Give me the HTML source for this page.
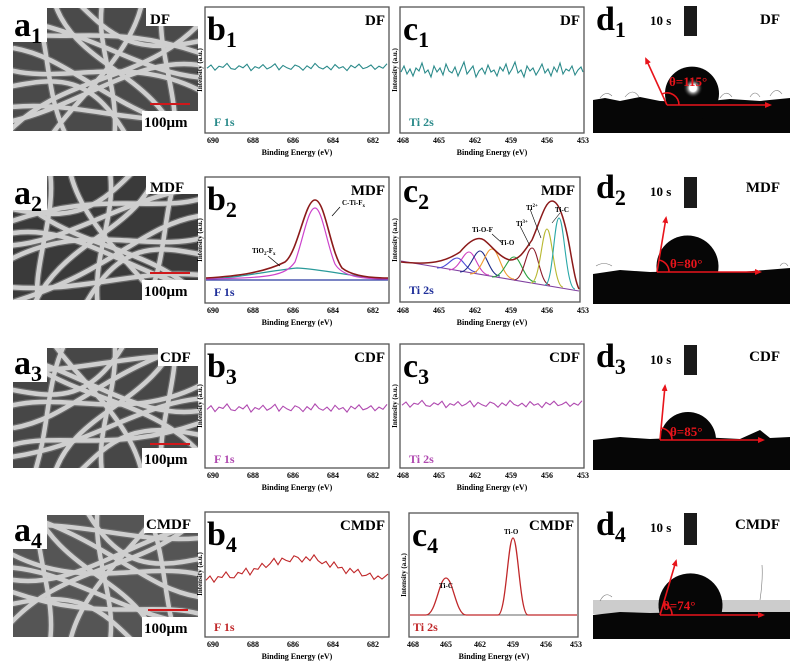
<!DOCTYPE html>
<html><head><meta charset="utf-8"><style>
html,body{margin:0;padding:0;background:#fff;width:802px;height:670px;overflow:hidden}
svg{display:block}
text{font-family:"Liberation Serif",serif;font-weight:bold}
</style></head><body>
<svg width="802" height="670" viewBox="0 0 802 670" xmlns="http://www.w3.org/2000/svg">
<defs>
<radialGradient id="hl"><stop offset="0" stop-color="#fff"/><stop offset="0.35" stop-color="#fff"/><stop offset="1" stop-color="#000" stop-opacity="0"/></radialGradient>
<marker id="ar" markerWidth="8" markerHeight="8" refX="5" refY="3" orient="auto" markerUnits="userSpaceOnUse"><path d="M0,0 L7,3 L0,6 z" fill="#e8141b"/></marker>
<g id="fib" fill="none">
<g stroke="#6a6a6a" stroke-width="7">
<path d="M-10,20 C40,40 100,10 200,50"/><path d="M-10,60 C50,80 120,40 200,90"/><path d="M-10,100 C60,90 120,120 200,110"/><path d="M20,-10 C40,50 30,90 60,140"/><path d="M90,-10 C80,40 110,80 100,140"/><path d="M150,-10 C140,40 170,90 160,140"/><path d="M-10,130 C50,60 140,80 200,0"/><path d="M0,40 C60,50 90,100 200,130"/><path d="M60,-10 C100,30 120,50 200,30"/><path d="M-10,80 C40,70 80,60 120,140"/><path d="M130,-10 C120,50 60,90 30,140"/><path d="M-10,10 C80,20 130,70 200,70"/><path d="M40,-10 C60,60 140,60 170,140"/><path d="M-10,115 C70,100 130,40 200,60"/>
</g>
<g stroke="#cfcfcf" stroke-width="4.5">
<path d="M-10,20 C40,40 100,10 200,50"/><path d="M-10,60 C50,80 120,40 200,90"/><path d="M-10,100 C60,90 120,120 200,110"/><path d="M20,-10 C40,50 30,90 60,140"/><path d="M90,-10 C80,40 110,80 100,140"/><path d="M150,-10 C140,40 170,90 160,140"/><path d="M-10,130 C50,60 140,80 200,0"/><path d="M0,40 C60,50 90,100 200,130"/><path d="M60,-10 C100,30 120,50 200,30"/><path d="M-10,80 C40,70 80,60 120,140"/><path d="M130,-10 C120,50 60,90 30,140"/><path d="M-10,10 C80,20 130,70 200,70"/><path d="M40,-10 C60,60 140,60 170,140"/><path d="M-10,115 C70,100 130,40 200,60"/>
</g>
</g>
<polyline id="jit" fill="none" vector-effect="non-scaling-stroke" points="0,0.3 4,-0.5 8,0.8 12,-0.2 16,0.1 20,-0.9 24,0.4 28,0.6 32,-0.3 36,0.2 40,-0.7 44,0.9 48,-0.1 52,0.3 56,-0.6 60,0.5 64,0 68,-0.8 72,0.7 76,-0.4 80,0.2 84,0.6 88,-0.5 92,-0.1 96,0.8 100,-0.3 104,0.4 108,-0.9 112,0.1 116,0.5 120,-0.2 124,0.7 128,-0.6 132,0.3 136,-0.1 140,0.9 144,-0.4 148,0.2 152,-0.7 156,0.4 160,0.1 164,-0.5 168,0.6 172,-0.2 176,0.3 180,-0.8"/>
<clipPath id="c1"><path d="M13,42 H47 V8 H198 V131 H13 Z"/></clipPath>
<clipPath id="c2"><path d="M13,210 H47 V176 H198 V300 H13 Z"/></clipPath>
<clipPath id="c3"><path d="M13,382 H47 V348 H198 V468 H13 Z"/></clipPath>
<clipPath id="c4"><path d="M13,549 H47 V515 H198 V637 H13 Z"/></clipPath>
</defs>

<g clip-path="url(#c1)"><rect x="13" y="8" width="186" height="124" fill="#4a4a4a"/><use href="#fib" transform="translate(13,8)"/></g>
<g clip-path="url(#c2)"><rect x="13" y="176" width="186" height="124" fill="#3a3a3a"/><use href="#fib" transform="translate(199,176) scale(-1,1)"/></g>
<g clip-path="url(#c3)"><rect x="13" y="348" width="186" height="120" fill="#474747"/><use href="#fib" transform="translate(13,468) scale(1,-1)"/></g>
<g clip-path="url(#c4)"><rect x="13" y="515" width="186" height="122" fill="#555"/><use href="#fib" transform="translate(199,637) scale(-1,-1)"/></g>
<g fill="#fff">
<rect x="146" y="8" width="52" height="18"/><rect x="142" y="111" width="56" height="20"/>
<rect x="146" y="176" width="52" height="18"/><rect x="142" y="280" width="56" height="20"/>
<rect x="158" y="348" width="40" height="18"/><rect x="142" y="448" width="56" height="20"/>
<rect x="144" y="515" width="54" height="18"/><rect x="142" y="617" width="56" height="20"/>
</g>
<g stroke="#d0181b" stroke-width="2">
<line x1="150" x2="190" y1="104" y2="104"/><line x1="150" x2="190" y1="273" y2="273"/><line x1="150" x2="190" y1="444" y2="444"/><line x1="148" x2="188" y1="610" y2="610"/>
</g>

<g fill="none" stroke="#555" stroke-width="1.3">
<rect x="205" y="7" width="184" height="126"/><rect x="400" y="7" width="184" height="126"/>
<rect x="205" y="177" width="184" height="126"/><rect x="400" y="177" width="180" height="125"/>
<rect x="205" y="344" width="184" height="124"/><rect x="400" y="344" width="184" height="124"/>
<rect x="205" y="512" width="184" height="125"/><rect x="409" y="513" width="169" height="124"/>
</g>
<g font-size="8" text-anchor="middle">
<g id="bt1"><text x="213" y="143">690</text><text x="253" y="143">688</text><text x="293" y="143">686</text><text x="333" y="143">684</text><text x="373" y="143">682</text></g>
<use href="#bt1" y="170"/><use href="#bt1" y="335"/><use href="#bt1" y="504"/>
<g id="ct1"><text x="403" y="143">468</text><text x="439" y="143">465</text><text x="475" y="143">462</text><text x="511" y="143">459</text><text x="547" y="143">456</text><text x="583" y="143">453</text></g>
<use href="#ct1" y="170"/><use href="#ct1" y="335"/>
<text x="413" y="647">468</text><text x="446" y="647">465</text><text x="480" y="647">462</text><text x="513" y="647">459</text><text x="546" y="647">456</text><text x="576" y="647">453</text>
<text x="297" y="155">Binding Energy (eV)</text><text x="492" y="155">Binding Energy (eV)</text>
<text x="297" y="325">Binding Energy (eV)</text><text x="492" y="325">Binding Energy (eV)</text>
<text x="297" y="490">Binding Energy (eV)</text><text x="492" y="490">Binding Energy (eV)</text>
<text x="297" y="659">Binding Energy (eV)</text><text x="494" y="659">Binding Energy (eV)</text>
</g>
<g font-size="7" text-anchor="middle">
<text transform="translate(202,70) rotate(-90)">Intensity (a.u.)</text><text transform="translate(397,70) rotate(-90)">Intensity (a.u.)</text>
<text transform="translate(202,240) rotate(-90)">Intensity (a.u.)</text><text transform="translate(397,240) rotate(-90)">Intensity (a.u.)</text>
<text transform="translate(202,406) rotate(-90)">Intensity (a.u.)</text><text transform="translate(397,406) rotate(-90)">Intensity (a.u.)</text>
<text transform="translate(202,574) rotate(-90)">Intensity (a.u.)</text><text transform="translate(406,575) rotate(-90)">Intensity (a.u.)</text>
</g>

<use href="#jit" stroke="#2a8a8a" stroke-width="1.1" transform="translate(207,67) scale(1,4)"/>
<polyline fill="none" stroke="#2a8a8a" stroke-width="1.1" points="401,72 404,66 407,74 410,69 413,76 416,68 419,71 422,63 425,73 428,70 431,77 434,66 437,72 440,68 443,75 446,64 449,71 452,73 455,67 458,76 461,69 464,62 467,74 470,70 473,66 476,77 479,71 482,68 485,74 488,65 491,72 494,70 497,76 500,67 503,71 506,64 509,74 512,69 515,62 518,73 521,70 524,77 527,66 530,71 533,68 536,75 539,70 542,64 545,73 548,69 551,76 554,67 557,72 560,63 563,74 566,69 569,71 572,66 575,75 578,70 581,67 583,72"/>
<use href="#jit" stroke="#b04ab0" stroke-width="1.1" transform="translate(207,408) scale(1,4.5)"/>
<use href="#jit" stroke="#b04ab0" stroke-width="1.1" transform="translate(402,404) scale(1,4)"/>
<polyline fill="none" stroke="#c0282a" stroke-width="1.1" points="206,580.3 210,576 214,582.1 218,576.6 222,577.5 226,571.9 230,577.6 234,577.8 238,572.4 242,573.8 246,568.2 250,574.9 254,568.6 258,569.3 262,563.4 266,567.5 270,563.7 274,558.4 278,564.7 282,558.1 286,560.4 290,561.7 294,555.8 298,557.5 302,562 306,556.8 310,560.7 314,554.9 318,560.6 322,563.7 326,561.4 330,567.2 334,562 338,567.9 342,567.3 346,573.6 350,568.4 354,572.7 358,569.3 362,575.9 366,575.3 370,573.1 374,579.4 378,576 382,579.1 388,574.1"/>

<g fill="none" stroke-width="1.2">
<line x1="206" y1="280" x2="388" y2="280" stroke="#2a3aa0"/>
<path d="M206,279 C240,278 260,272 297,268 C330,270 350,277 388,279" stroke="#2a9a9a"/>
<path d="M206,279 C270,278 285,276 295,262 C303,240 308,208 315,208 C322,208 327,245 335,264 C342,276 360,279 388,279" stroke="#cc44cc"/>
<path d="M206,278 C240,276 265,272 285,262 C298,252 305,200 315,200 C325,200 330,250 342,268 C352,276 370,278 388,278" stroke="#8b1a1a" stroke-width="1.6"/>
<line x1="340" y1="207" x2="332" y2="216" stroke="#000" stroke-width=".7"/>
<line x1="268" y1="256" x2="280" y2="266" stroke="#000" stroke-width=".7"/>
</g>

<g fill="none" stroke-width="1.1">
<line x1="401" y1="261" x2="579" y2="291" stroke="#8040a0"/>
<path d="M437,268 C447,268 451,258 457,258 C463,258 467,272 477,272" stroke="#4a4ad8"/>
<path d="M449,270 C459,270 463,252 469,252 C475,252 479,275 489,275" stroke="#d040c0"/>
<path d="M460,272 C470,272 474,251 480,251 C486,251 490,276 500,276" stroke="#1e2a8a"/>
<path d="M470,274 C482,274 485,249 492,249 C499,249 502,279 514,279" stroke="#f09a30"/>
<path d="M492,277 C504,277 507,257 514,257 C521,257 524,282 536,282" stroke="#2aa040"/>
<path d="M514,280 C524,280 526,248 532,248 C538,248 540,285 550,285" stroke="#8b1a2a"/>
<path d="M531,283 C540,283 542,229 547,229 C552,229 554,287 563,287" stroke="#b8b830"/>
<path d="M545,285 C553,285 554,218 559,218 C564,218 566,289 575,289" stroke="#2aa8a8"/>
<path d="M401,262 C430,265 445,262 460,252 C470,240 478,236 484,240 C492,246 500,258 510,260 C520,260 525,250 532,240 C540,222 545,201 552,201 C560,201 566,225 571,255 C574,272 576,283 579,289" stroke="#8b1a1a" stroke-width="1.5"/>
<g stroke="#000" stroke-width=".6"><line x1="492" y1="234" x2="502" y2="243"/><line x1="520" y1="226" x2="530" y2="246"/><line x1="530" y1="209" x2="541" y2="238"/><line x1="560" y1="213" x2="552" y2="223"/></g>
</g>

<line x1="410" x2="577" y1="615" y2="615" stroke="#333" stroke-width=".8"/>
<path d="M410,615 L426,615 C436,615 439,578 446,578 C453,578 456,615 466,615 L498,615 C506,615 508,538 513,538 C518,538 520,615 528,615 L577,615" fill="none" stroke="#c0282a" stroke-width="1.3"/>

<g fill="#1a1a1a"><rect x="684" y="6" width="13" height="30"/><rect x="684" y="177" width="13" height="31"/><rect x="684" y="345" width="13" height="30"/><rect x="684" y="513" width="13" height="32"/></g>
<rect x="593" y="600" width="197" height="14" fill="#999" opacity=".5"/>
<g fill="none" stroke="#777" stroke-width=".6">
<path d="M600,98 q6,-8 12,-2 M625,97 q8,-10 14,0 M720,98 q6,-9 12,-1 M750,97 q5,-8 10,0 M770,96 q6,-10 12,-2"/>
<path d="M596,266 q8,-5 16,0 M780,266 q4,-6 8,0"/>
<path d="M600,601 q5,-10 12,-4 M760,600 q3,-20 2,-35"/>
</g>
<g fill="#060606">
<path d="M593,133 V100 L605,98 L620,101 L640,97 L660,101 L700,102 L730,99 L760,101 L790,98 V133 Z"/>
<circle cx="692" cy="93.6" r="27"/>
<path d="M593,304 V274 L620,270 L650,272 L700,271 L740,272 L790,268 V304 Z"/>
<path d="M657,272 A31,31 0 1 1 718,272 Z"/>
<path d="M593,470 V440 L620,437 L650,439 L700,437 L740,439 L760,430 L770,438 L790,437 V470 Z"/>
<path d="M660,440 A28,28 0 1 1 716,440 Z"/>
<path d="M593,639 V615 L620,612 L650,613 L700,612 L740,612 L790,612 V639 Z"/>
<path d="M660,615 A32,32 0 1 1 721,615 Z"/>
</g>
<circle cx="693" cy="88" r="10" fill="url(#hl)"/>
<g stroke="#e8141b" stroke-width="1.6" fill="none">
<line x1="667" y1="105" x2="770" y2="105" marker-end="url(#ar)"/><line x1="667" y1="105" x2="646" y2="59" marker-end="url(#ar)"/>
<path d="M679,105 A12,12 0 0 0 662,94"/>
<line x1="657" y1="272" x2="760" y2="272" marker-end="url(#ar)"/><line x1="657" y1="272" x2="666" y2="218" marker-end="url(#ar)"/>
<path d="M669,272 A12,12 0 0 0 659,260"/>
<line x1="660" y1="440" x2="763" y2="440" marker-end="url(#ar)"/><line x1="660" y1="440" x2="665" y2="386" marker-end="url(#ar)"/>
<path d="M672,440 A12,12 0 0 0 661,428"/>
<line x1="660" y1="615" x2="763" y2="615" marker-end="url(#ar)"/><line x1="660" y1="615" x2="676" y2="561" marker-end="url(#ar)"/>
<path d="M672,615 A12,12 0 0 0 663,603"/>
</g>

<g font-size="15">
<text x="150" y="24">DF</text><text x="150" y="192">MDF</text><text x="160" y="362">CDF</text><text x="146" y="529">CMDF</text>
<text x="144" y="127">100μm</text><text x="144" y="296">100μm</text><text x="144" y="464">100μm</text><text x="144" y="633">100μm</text>
</g>
<g font-size="34">
<text x="14" y="36">a<tspan font-size="22" dy="7">1</tspan></text>
<text x="14" y="204">a<tspan font-size="22" dy="7">2</tspan></text>
<text x="14" y="374">a<tspan font-size="22" dy="7">3</tspan></text>
<text x="14" y="541">a<tspan font-size="22" dy="7">4</tspan></text>
<text x="207" y="40">b<tspan font-size="22" dy="7">1</tspan></text>
<text x="207" y="210">b<tspan font-size="22" dy="7">2</tspan></text>
<text x="207" y="377">b<tspan font-size="22" dy="7">3</tspan></text>
<text x="207" y="545">b<tspan font-size="22" dy="7">4</tspan></text>
<text x="403" y="40">c<tspan font-size="22" dy="7">1</tspan></text>
<text x="403" y="202">c<tspan font-size="22" dy="7">2</tspan></text>
<text x="403" y="377">c<tspan font-size="22" dy="7">3</tspan></text>
<text x="412" y="546">c<tspan font-size="22" dy="7">4</tspan></text>
<text x="596" y="30">d<tspan font-size="22" dy="7">1</tspan></text>
<text x="596" y="198">d<tspan font-size="22" dy="7">2</tspan></text>
<text x="596" y="367">d<tspan font-size="22" dy="7">3</tspan></text>
<text x="596" y="535">d<tspan font-size="22" dy="7">4</tspan></text>
</g>
<g font-size="15" text-anchor="end">
<text x="385" y="25">DF</text><text x="385" y="195">MDF</text><text x="385" y="362">CDF</text><text x="385" y="530">CMDF</text>
<text x="580" y="25">DF</text><text x="575" y="195">MDF</text><text x="580" y="362">CDF</text><text x="574" y="530">CMDF</text>
<text x="780" y="24">DF</text><text x="780" y="192">MDF</text><text x="780" y="361">CDF</text><text x="780" y="529">CMDF</text>
</g>
<g font-size="13">
<text x="650" y="25">10 s</text><text x="650" y="196">10 s</text><text x="650" y="364">10 s</text><text x="650" y="532">10 s</text>
</g>
<g font-size="12">
<text x="214" y="126" fill="#2a8a8a">F 1s</text>
<text x="214" y="296" fill="#1f2f9a">F 1s</text>
<text x="214" y="463" fill="#b04ab0">F 1s</text>
<text x="214" y="631" fill="#c0282a">F 1s</text>
<text x="409" y="126" fill="#2a8a8a">Ti 2s</text>
<text x="409" y="294" fill="#1f2f9a">Ti 2s</text>
<text x="409" y="463" fill="#b04ab0">Ti 2s</text>
<text x="413" y="631" fill="#c0282a">Ti 2s</text>
</g>
<g font-size="13" fill="#e8141b">
<text x="669" y="86">θ=115°</text>
<text x="670" y="268">θ=80°</text>
<text x="670" y="436">θ=85°</text>
<text x="663" y="610">θ=74°</text>
</g>
<g font-size="7">
<text x="342" y="205">C-Ti-F<tspan font-size="5" dy="2">x</tspan></text>
<text x="252" y="253">TiO<tspan font-size="5" dy="2">2</tspan><tspan dy="-2">-F</tspan><tspan font-size="5" dy="2">x</tspan></text>
<text x="472" y="232">Ti-O-F</text>
<text x="500" y="245">Ti-O</text>
<text x="516" y="226">Ti<tspan font-size="5" dy="-3">3+</tspan></text>
<text x="526" y="210">Ti<tspan font-size="5" dy="-3">2+</tspan></text>
<text x="555" y="212">Ti-C</text>
<text x="439" y="588">Ti-C</text>
<text x="504" y="534">Ti-O</text>
</g>
</svg>
</body></html>
